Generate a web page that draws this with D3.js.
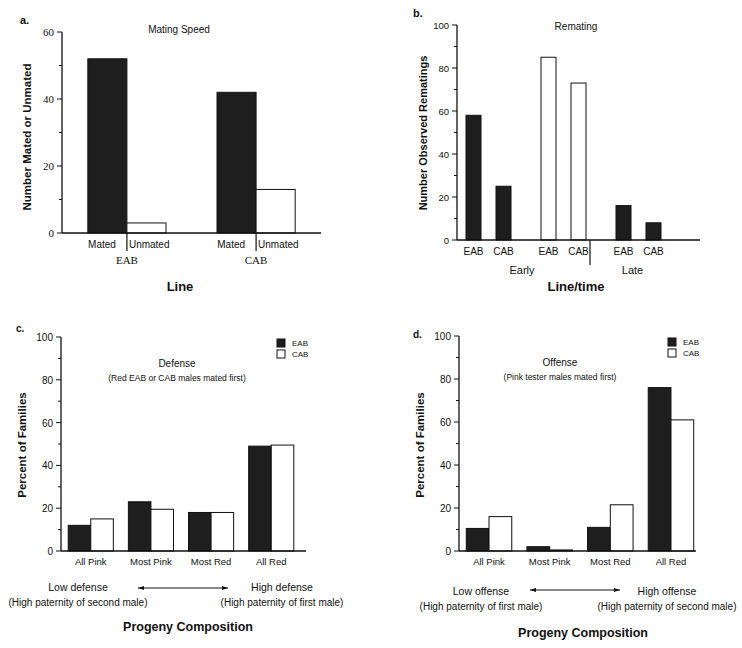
<!DOCTYPE html>
<html><head><meta charset="utf-8">
<script src="https://cdn.jsdelivr.net/npm/d3@7"></script>
<style>
body{margin:0;background:#fff;}
text{font-family:"Liberation Sans",Arial,sans-serif;fill:#111;}
.serif{font-family:"Liberation Serif","Times New Roman",serif;}
</style></head>
<body><svg id="c" width="742" height="648"></svg>
<script>
// ---- Data ----
// Panel a: Mating speed
const aLines = ["EAB", "CAB"];
const aStatus = ["Mated", "Unmated"];
const aValues = [[52, 3], [42, 13]];
const aTicks = [0, 20, 40, 60];
// Panel b: Remating
const bGroups = ["Early1", "Early2", "Late"];
const bLines = ["EAB", "CAB"];
const bValues = [[58, 25], [85, 73], [16, 8]];
const bFill = ["dark", "white", "dark"];
const bTicks = [0, 20, 40, 60, 80, 100];
// Panels c, d: progeny composition
const progCats = ["All Pink", "Most Pink", "Most Red", "All Red"];
const seriesNames = ["EAB", "CAB"];
const cEAB = [12, 23, 18, 49];
const cCAB = [15, 19.5, 18, 49.5];
const dEAB = [10.5, 2, 11, 76];
const dCAB = [16, 0.5, 21.5, 61];
const pctTicks = [0, 20, 40, 60, 80, 100];

const DARK = "#1e1e1e";
const svg = d3.select("#c");

function yAxis(g, y, ticks, minor, x0, serif, fs) {
  const ax = g.append("g").attr("transform", `translate(${x0},0)`);
  ax.append("line").attr("x1", 0).attr("x2", 0).attr("y1", y.range()[0]).attr("y2", y.range()[1]).attr("stroke", "#111").attr("stroke-width", 1.3);
  ax.selectAll(".mj").data(ticks).join("line").attr("x1", -5).attr("x2", 0).attr("y1", d => y(d)).attr("y2", d => y(d)).attr("stroke", "#111");
  ax.selectAll(".mn").data(minor).join("line").attr("x1", -3).attr("x2", 0).attr("y1", d => y(d)).attr("y2", d => y(d)).attr("stroke", "#111");
  ax.selectAll(".tl").data(ticks).join("text").attr("x", -8).attr("y", d => y(d) + 4).attr("text-anchor", "end")
    .attr("class", serif ? "serif" : null).style("font-size", fs + "px").text(d => d);
}
function xLine(g, x1, x2, y0) {
  g.append("line").attr("x1", x1).attr("x2", x2).attr("y1", y0).attr("y2", y0).attr("stroke", "#111").attr("stroke-width", 1.3);
}
function txt(g, x, y, s, fs, opts = {}) {
  const t = g.append("text").attr("x", x).attr("y", y).attr("text-anchor", opts.anchor || "middle")
    .style("font-size", fs + "px").text(s);
  if (opts.bold) t.style("font-weight", "bold");
  if (opts.serif) t.attr("class", "serif");
  if (opts.rot) t.attr("transform", `rotate(-90,${x},${y})`);
  return t;
}

// ---------- Panel a ----------
{
  const g = svg.append("g");
  const y = d3.scaleLinear().domain([0, 60]).range([233, 32]);
  const x = d3.scaleBand().domain(aLines).range([62, 321]).paddingInner(0.395).paddingOuter(0.2);
  const xi = d3.scaleBand().domain(aStatus).range([0, x.bandwidth()]);
  aLines.forEach((ln, i) => {
    g.selectAll(null).data(aValues[i]).join("rect")
      .attr("x", (d, j) => x(ln) + xi(aStatus[j])).attr("width", xi.bandwidth())
      .attr("y", d => y(d)).attr("height", d => y(0) - y(d))
      .attr("fill", (d, j) => j === 0 ? DARK : "#fff").attr("stroke", "#111").attr("stroke-width", 1);
    const mid = x(ln) + xi.bandwidth();
    g.append("line").attr("x1", mid).attr("x2", mid).attr("y1", y(0)).attr("y2", 251).attr("stroke", "#111").attr("stroke-width", 1.2);
    txt(g, mid - 11, 248, aStatus[0], 10, { anchor: "end" });
    txt(g, mid + 2, 248, aStatus[1], 10, { anchor: "start" });
    txt(g, mid, 264, ln, 11, { serif: true });
  });
  yAxis(g, y, aTicks, [10, 30, 50], 62, true, 11);
  xLine(g, 62, 321, y(0));
  txt(g, 179, 33, "Mating Speed", 10);
  txt(g, 20, 24, "a.", 11, { bold: true, anchor: "start" });
  txt(g, 31, 137, "Number Mated or Unmated", 11.5, { bold: true, rot: true });
  txt(g, 180, 291, "Line", 13, { bold: true });
}

// ---------- Panel b ----------
{
  const g = svg.append("g");
  const y = d3.scaleLinear().domain([0, 100]).range([240, 25]);
  const x = d3.scaleBand().domain(bGroups).range([457, 670]).paddingInner(0.4).paddingOuter(0.12);
  const xi = d3.scaleBand().domain(bLines).range([0, x.bandwidth()]).paddingInner(0.5);
  bGroups.forEach((gr, i) => {
    g.selectAll(null).data(bValues[i]).join("rect")
      .attr("x", (d, j) => x(gr) + xi(bLines[j])).attr("width", xi.bandwidth())
      .attr("y", d => y(d)).attr("height", d => y(0) - y(d))
      .attr("fill", bFill[i] === "dark" ? DARK : "#fff").attr("stroke", "#111").attr("stroke-width", 1);
    bLines.forEach(ln => txt(g, x(gr) + xi(ln) + xi.bandwidth() / 2, 255, ln, 10));
  });
  const div = x("Early2") + x.bandwidth() + 4;
  g.append("line").attr("x1", div).attr("x2", div).attr("y1", y(0)).attr("y2", 265).attr("stroke", "#111").attr("stroke-width", 1.2);
  yAxis(g, y, bTicks, [10, 30, 50, 70, 90], 457, false, 9.5);
  xLine(g, 457, 700, y(0));
  txt(g, (x("Early1") + x("Early2") + x.bandwidth()) / 2 - 4, 274, "Early", 11);
  txt(g, x("Late") + x.bandwidth() / 2 - 6, 274, "Late", 11);
  txt(g, 576, 291, "Line/time", 13, { bold: true });
  txt(g, 576, 30, "Remating", 10);
  txt(g, 418, 17, "b.", 11, { bold: true, anchor: "middle" });
  txt(g, 427, 133, "Number Observed Rematings", 11, { bold: true, rot: true });
}

// ---------- Panels c & d ----------
function progPanel(opt) {
  const g = svg.append("g");
  const y = d3.scaleLinear().domain([0, 100]).range([551, opt.top]);
  const x = d3.scaleBand().domain(progCats).range(opt.range).paddingInner(0.25).paddingOuter(0.12);
  const xi = d3.scaleBand().domain(seriesNames).range([0, x.bandwidth()]);
  const vals = [opt.eab, opt.cab];
  seriesNames.forEach((s, j) => {
    g.selectAll(null).data(vals[j]).join("rect")
      .attr("x", (d, i) => x(progCats[i]) + xi(s)).attr("width", xi.bandwidth())
      .attr("y", d => y(d)).attr("height", d => y(0) - y(d))
      .attr("fill", j === 0 ? DARK : "#fff").attr("stroke", "#111").attr("stroke-width", 1);
  });
  progCats.forEach(c => txt(g, x(c) + x.bandwidth() / 2, 565, c, 9.5));
  yAxis(g, y, pctTicks, [10, 30, 50, 70, 90], opt.x0, false, 10);
  xLine(g, opt.x0, opt.xEnd, y(0));
  // legend
  seriesNames.forEach((s, j) => {
    g.append("rect").attr("x", opt.legX).attr("y", opt.legY + j * 11 - 7).attr("width", 8).attr("height", 8)
      .attr("fill", j === 0 ? DARK : "#fff").attr("stroke", "#111").attr("stroke-width", 1);
    txt(g, opt.legX + 15, opt.legY + j * 11, s, 8, { anchor: "start" });
  });
  txt(g, opt.titleX, opt.titleY, opt.title, 10);
  txt(g, opt.titleX, opt.titleY + 14, opt.sub, 8.5);
  txt(g, opt.labelX, opt.labelY, opt.letter, 10, { bold: true, anchor: "start" });
  txt(g, opt.x0 - 35, 445, "Percent of Families", 11.5, { bold: true, rot: true });
  // arrow
  const ay = opt.arrowY;
  g.append("line").attr("x1", opt.arrow[0]).attr("x2", opt.arrow[1]).attr("y1", ay).attr("y2", ay).attr("stroke", "#111").attr("stroke-width", 1);
  g.append("path").attr("d", `M${opt.arrow[0]},${ay} l6,-2 v4 z`).attr("fill", "#111");
  g.append("path").attr("d", `M${opt.arrow[1]},${ay} l-6,-2 v4 z`).attr("fill", "#111");
  txt(g, opt.low[0], opt.textY, opt.lowText[0], 10.5);
  txt(g, opt.low[0], opt.textY + 15, opt.lowText[1], 10);
  txt(g, opt.high[0], opt.textY, opt.highText[0], 10.5);
  txt(g, opt.high[0], opt.textY + 15, opt.highText[1], 10);
  txt(g, opt.pcX, opt.pcY, "Progeny Composition", 12.5, { bold: true });
}

progPanel({
  top: 337, range: [61, 301], x0: 61, xEnd: 306, eab: cEAB, cab: cCAB,
  legX: 277, legY: 346, title: "Defense", sub: "(Red EAB or CAB males mated first)", titleX: 177, titleY: 367,
  letter: "c.", labelX: 16, labelY: 332, arrowY: 588, arrow: [138, 228], textY: 591,
  low: [78], high: [282], lowText: ["Low defense", "(High paternity of second male)"],
  highText: ["High defense", "(High paternity of first male)"], pcX: 188, pcY: 631
});
progPanel({
  top: 336, range: [459, 701], x0: 459, xEnd: 696, eab: dEAB, cab: dCAB,
  legX: 668, legY: 345, title: "Offense", sub: "(Pink tester males mated first)", titleX: 560, titleY: 366,
  letter: "d.", labelX: 413, labelY: 338, arrowY: 590, arrow: [530, 620], textY: 595,
  low: [481], high: [667], lowText: ["Low offense", "(High paternity of first male)"],
  highText: ["High offense", "(High paternity of second male)"], pcX: 583, pcY: 637
});
</script></body></html>
